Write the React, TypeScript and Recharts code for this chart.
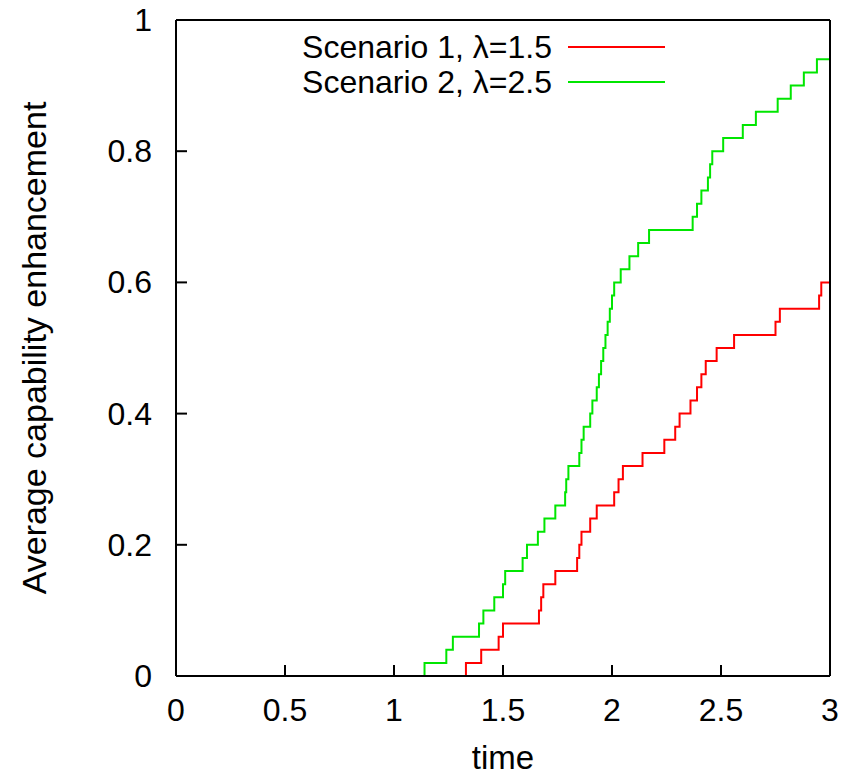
import React from 'react'
import { LineChart, Line, XAxis, YAxis, Customized } from 'recharts'

// step times (value changes at these times) and the level reached there
const times1 = [1.0, 1.33, 1.4, 1.48, 1.5, 1.665, 1.675, 1.685, 1.74, 1.84, 1.85, 1.86, 1.9, 1.93, 2.01, 2.03, 2.05, 2.14, 2.24, 2.29, 2.31, 2.36, 2.39, 2.41, 2.43, 2.48, 2.56, 2.75, 2.77, 2.95, 2.96, 3.0]
const values1 = [0, 0.02, 0.04, 0.06, 0.08, 0.1, 0.12, 0.14, 0.16, 0.18, 0.2, 0.22, 0.24, 0.26, 0.28, 0.3, 0.32, 0.34, 0.36, 0.38, 0.4, 0.42, 0.44, 0.46, 0.48, 0.5, 0.52, 0.54, 0.56, 0.58, 0.6, 0.6]

const times2 = [1.0, 1.14, 1.24, 1.27, 1.39, 1.41, 1.46, 1.5, 1.51, 1.59, 1.61, 1.66, 1.69, 1.74, 1.785, 1.79, 1.8, 1.85, 1.86, 1.87, 1.9, 1.91, 1.93, 1.94, 1.95, 1.96, 1.97, 1.98, 1.99, 2.0, 2.01, 2.04, 2.08, 2.12, 2.17, 2.37, 2.39, 2.41, 2.44, 2.45, 2.46, 2.51, 2.6, 2.66, 2.76, 2.82, 2.88, 2.94, 3.0]
const values2 = [0, 0.02, 0.04, 0.06, 0.08, 0.1, 0.12, 0.14, 0.16, 0.18, 0.2, 0.22, 0.24, 0.26, 0.28, 0.3, 0.32, 0.34, 0.36, 0.38, 0.4, 0.42, 0.44, 0.46, 0.48, 0.5, 0.52, 0.54, 0.56, 0.58, 0.6, 0.62, 0.64, 0.66, 0.68, 0.7, 0.72, 0.74, 0.76, 0.78, 0.8, 0.82, 0.84, 0.86, 0.88, 0.9, 0.92, 0.94, 0.94]

const xTicks = [0, 0.5, 1, 1.5, 2, 2.5, 3]
const yTicks = [0, 0.2, 0.4, 0.6, 0.8, 1]

const seriesNames = ['Scenario 1, \u03bb=1.5', 'Scenario 2, \u03bb=2.5']
const seriesColors = ['#ff0000', '#00e600']

const FONT = '"Liberation Sans", Arial, sans-serif'
const TICK = 11

const data1 = times1.map((t, i) => ({ t, v: values1[i] }))
const data2 = times2.map((t, i) => ({ t, v: values2[i] }))

const BottomTick = ({ x, y, payload }: any) => (
  <g>
    <line x1={x} y1={y} x2={x} y2={y - TICK} stroke="#000" strokeWidth={2} />
    <text x={x} y={y + 45} textAnchor="middle" fontSize={32} fontFamily={FONT} fill="#000">
      {payload.value}
    </text>
  </g>
)

const LeftTick = ({ x, y, payload }: any) => (
  <g>
    <line x1={x} y1={y} x2={x + TICK} y2={y} stroke="#000" strokeWidth={2} />
    <text x={x - 24} y={y + 11} textAnchor="end" fontSize={32} fontFamily={FONT} fill="#000">
      {payload.value}
    </text>
  </g>
)

const TopTick = ({ x, y }: any) => <line x1={x} y1={y} x2={x} y2={y + TICK} stroke="#000" strokeWidth={2} />
const RightTick = ({ x, y }: any) => <line x1={x} y1={y} x2={x - TICK} y2={y} stroke="#000" strokeWidth={2} />

const Titles = () => (
  <g fontFamily={FONT} fill="#000">
    <text x={503} y={769} textAnchor="middle" fontSize={33}>time</text>
    <text x={46} y={348} textAnchor="middle" fontSize={34} transform="rotate(-90 46 348)">
      Average capability enhancement
    </text>
    {seriesNames.map((name, i) => (
      <g key={name}>
        <text x={552} y={47 + i * 35 + 11} textAnchor="end" fontSize={32}>{name}</text>
        <line x1={568} y1={47 + i * 35} x2={665} y2={47 + i * 35} stroke={seriesColors[i]} strokeWidth={2} />
      </g>
    ))}
  </g>
)

export default function App() {
  return (
    <div style={{ position: 'absolute', left: 0, top: 0, background: '#fff' }}>
      <LineChart width={848} height={777} margin={{ top: 0, right: 0, bottom: 0, left: 0 }}>
        <XAxis
          dataKey="t"
          type="number"
          domain={[0, 3]}
          ticks={xTicks}
          interval={0}
          height={101}
          tickSize={0}
          tickMargin={0}
          tickLine={false}
          tick={<BottomTick />}
          axisLine={{ stroke: '#000', strokeWidth: 2 }}
          allowDataOverflow
        />
        <XAxis
          xAxisId="top"
          orientation="top"
          dataKey="t"
          type="number"
          domain={[0, 3]}
          ticks={xTicks}
          interval={0}
          height={20}
          tickSize={0}
          tickMargin={0}
          tickLine={false}
          tick={<TopTick />}
          axisLine={{ stroke: '#000', strokeWidth: 2 }}
        />
        <YAxis
          type="number"
          domain={[0, 1]}
          ticks={yTicks}
          interval={0}
          width={176}
          tickSize={0}
          tickMargin={0}
          tickLine={false}
          tick={<LeftTick />}
          axisLine={{ stroke: '#000', strokeWidth: 2 }}
        />
        <YAxis
          yAxisId="right"
          orientation="right"
          type="number"
          domain={[0, 1]}
          ticks={yTicks}
          interval={0}
          width={18}
          tickSize={0}
          tickMargin={0}
          tickLine={false}
          tick={<RightTick />}
          axisLine={{ stroke: '#000', strokeWidth: 2 }}
        />
        <Line
          data={data1}
          dataKey="v"
          type="stepAfter"
          stroke={seriesColors[0]}
          strokeWidth={2}
          dot={false}
          isAnimationActive={false}
        />
        <Line
          data={data2}
          dataKey="v"
          type="stepAfter"
          stroke={seriesColors[1]}
          strokeWidth={2}
          dot={false}
          isAnimationActive={false}
        />
        <Customized component={Titles} />
      </LineChart>
    </div>
  )
}
